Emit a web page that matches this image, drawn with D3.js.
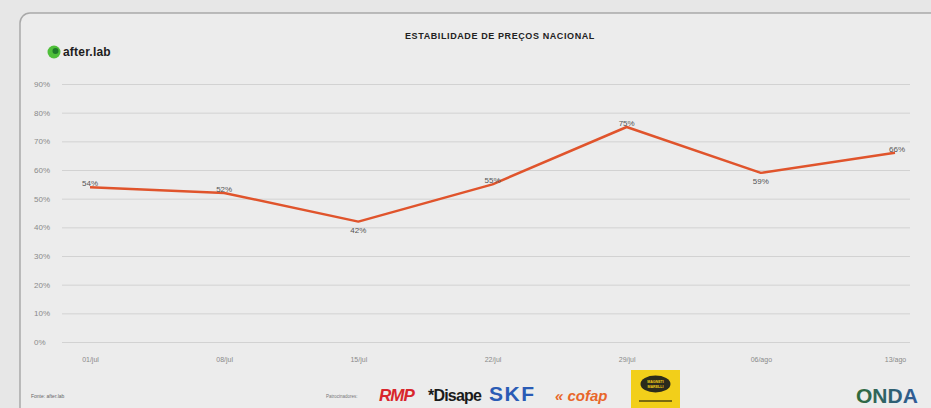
<!DOCTYPE html>
<html>
<head>
<meta charset="utf-8">
<script src="https://cdn.jsdelivr.net/npm/d3@7"></script>
<style>
  html, body { margin: 0; padding: 0; background: #e7e7e7; }
  svg { display: block; font-family: "Liberation Sans", Arial, sans-serif; }
</style>
</head>
<body>
<svg id="chart" width="931" height="408"></svg>
<script>
// Weekly national price-stability index
const weeks = ["01/jul", "08/jul", "15/jul", "22/jul", "29/jul", "06/ago", "13/ago"];
const stability = [54, 52, 42, 55, 75, 59, 66];
const yTicks = [0, 10, 20, 30, 40, 50, 60, 70, 80, 90];
const sponsors = ["RMP", "*Disape", "SKF", "cofap"];

const svg = d3.select("#chart");

// card frame
svg.append("rect")
  .attr("x", 20).attr("y", 13).attr("width", 930).attr("height", 420)
  .attr("rx", 10)
  .attr("fill", "#ececec").attr("stroke", "#a9a9a9").attr("stroke-width", 1.5);

const x = d3.scalePoint().domain(weeks).range([90, 895]);
const y = d3.scaleLinear().domain([0, 90]).range([342, 84]);

// horizontal grid + percent labels
const yAxis = d3.axisLeft(y).tickValues(yTicks)
  .tickFormat(d => d + "%").tickSize(-848).tickPadding(8);
const gy = svg.append("g").attr("transform", "translate(62,0)").call(yAxis);
gy.select(".domain").remove();
gy.selectAll(".tick line").attr("stroke", "#d2d2d2").attr("stroke-width", 1);
gy.selectAll(".tick text").attr("fill", "#8a8a8a").attr("font-size", 8)
  .attr("text-anchor", "start").attr("x", -28);

// week labels
const xAxis = d3.axisBottom(x).tickSize(0).tickPadding(0);
const gx = svg.append("g").attr("transform", "translate(0,357)").call(xAxis);
gx.select(".domain").remove();
gx.selectAll(".tick text").attr("fill", "#8a8a8a").attr("font-size", 7);

// title
svg.append("text").attr("x", 500).attr("y", 39).attr("text-anchor", "middle")
  .attr("font-size", 9).attr("font-weight", "bold").attr("fill", "#222")
  .attr("letter-spacing", 0.6)
  .text("ESTABILIDADE DE PREÇOS NACIONAL");

// after.lab brand
const brand = svg.append("g").attr("transform", "translate(54,52)");
brand.append("circle").attr("r", 6.5).attr("fill", "#4fbf3a");
brand.append("circle").attr("r", 3).attr("cx", 1.5).attr("cy", -1).attr("fill", "#1f7a2a");
brand.append("text").attr("x", 9).attr("y", 4).attr("font-size", 12)
  .attr("font-weight", "bold").attr("fill", "#1d1d1d").attr("letter-spacing", 0.2)
  .text("after.lab");

// series line
const line = d3.line().x((d, i) => x(weeks[i])).y(d => y(d));
svg.append("path").datum(stability)
  .attr("d", line).attr("fill", "none")
  .attr("stroke", "#e0542c").attr("stroke-width", 2.5)
  .attr("stroke-linejoin", "round");

// value labels: above the line at rises, below at dips
svg.append("g").selectAll("text").data(stability).join("text")
  .attr("x", (d, i) => x(weeks[i]) + (i === stability.length - 1 ? 2 : 0))
  .attr("y", (d, i) => {
    const below = (i === 2 || i === 5);
    return below ? y(d) + 11 : y(d) - 1;
  })
  .attr("text-anchor", "middle").attr("font-size", 8).attr("fill", "#555")
  .text(d => d + "%");

// footer
svg.append("text").attr("x", 31).attr("y", 398).attr("font-size", 5)
  .attr("fill", "#666").text("Fonte: after.lab");
svg.append("text").attr("x", 326).attr("y", 398).attr("font-size", 4.5)
  .attr("fill", "#777").text("Patrocinadores:");

const logoX = [379, 428, 489, 555];
const logoStyle = [
  { fill: "#d8262c", size: 17, weight: 900, style: "italic", spacing: -1 },
  { fill: "#1a1a1a", size: 16, weight: 700, style: "normal", spacing: -0.8 },
  { fill: "#2a5bb5", size: 21, weight: 900, style: "normal", spacing: 1.5 },
  { fill: "#e8662a", size: 15, weight: 700, style: "italic", spacing: 0 }
];
svg.append("g").selectAll("text").data(sponsors).join("text")
  .attr("x", (d, i) => logoX[i]).attr("y", 401)
  .attr("font-size", (d, i) => logoStyle[i].size)
  .attr("font-weight", (d, i) => logoStyle[i].weight)
  .attr("font-style", (d, i) => logoStyle[i].style)
  .attr("fill", (d, i) => logoStyle[i].fill)
  .attr("letter-spacing", (d, i) => logoStyle[i].spacing)
  .text(d => d === "cofap" ? "\u00AB cofap" : d);

// yellow sponsor badge
const badge = svg.append("g").attr("transform", "translate(631,370)");
badge.append("rect").attr("width", 49).attr("height", 38).attr("fill", "#f2cf1a");
badge.append("ellipse").attr("cx", 24.5).attr("cy", 14).attr("rx", 15).attr("ry", 8.5)
  .attr("fill", "#2b2b1c");
badge.append("text").attr("x", 24.5).attr("y", 13).attr("text-anchor", "middle")
  .attr("font-size", 3.6).attr("font-weight", "bold").attr("fill", "#f2cf1a")
  .text("MAGNETI");
badge.append("text").attr("x", 24.5).attr("y", 17.5).attr("text-anchor", "middle")
  .attr("font-size", 3.6).attr("font-weight", "bold").attr("fill", "#f2cf1a")
  .text("MARELLI");
badge.append("rect").attr("x", 8).attr("y", 30).attr("width", 33).attr("height", 2)
  .attr("fill", "#7a6a10");

// ONDA mark
const grad = svg.append("defs").append("linearGradient").attr("id", "ondaGrad");
grad.append("stop").attr("offset", "0%").attr("stop-color", "#2f6b3a");
grad.append("stop").attr("offset", "100%").attr("stop-color", "#2f5a9a");
svg.append("text").attr("x", 856).attr("y", 403).attr("font-size", 21)
  .attr("font-weight", 900).attr("fill", "url(#ondaGrad)")
  .text("ONDA");
</script>
</body>
</html>
